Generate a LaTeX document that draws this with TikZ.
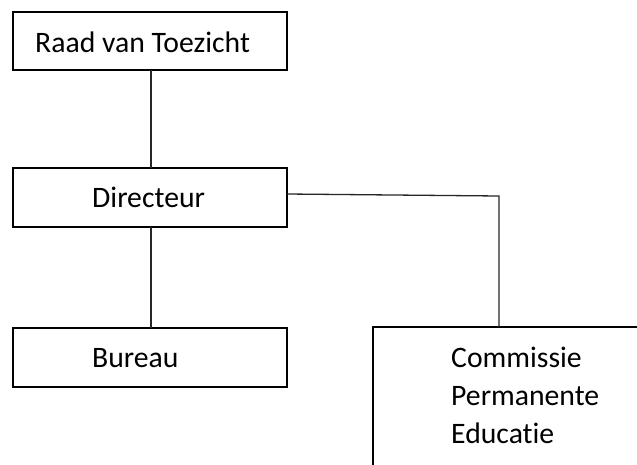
\documentclass[tikz,border=0pt]{standalone}
\usepackage{fontspec}
\setmainfont{Carlito}[Ligatures=NoCommon]
\begin{document}
\begin{tikzpicture}[x=1pt,y=-1pt,
  box/.style={draw=black,line width=2pt,fill=white,inner sep=0pt,outer sep=0pt},
  lbl/.style={inner sep=0pt,anchor=base west,font=\fontsize{29.7}{38}\selectfont,text=black},
  conn/.style={draw=black!85,line width=1.3pt}]
\clip (0,0) rectangle (637,464);
\fill[white] (0,0) rectangle (637,464);
\node[box,minimum width=274pt,minimum height=58pt] (raad) at (150,41) {};
\node[box,minimum width=274pt,minimum height=59pt] (dir) at (150,197.5) {};
\node[box,minimum width=274pt,minimum height=59pt] (bur) at (150,357.5) {};
\node[box,minimum width=280pt,minimum height=160pt] (com) at (513,407) {};
\coordinate (k) at (499,196);
\draw[conn] ([xshift=1pt]raad.south) -- ([xshift=1pt]dir.north);
\draw[conn] ([xshift=1pt]dir.south) -- ([xshift=1pt]bur.north);
\draw[conn] ([yshift=3.5pt]dir.east) -- (k) -- (k |- com.north);
\node[lbl] (traad) at (35,52) {Raad van Toezicht};
\node[lbl] (tdir) at (92,207) {Directeur};
\node[lbl] (tbur) at (92,367) {Bureau};
\node[lbl] (tcom1) at (451,367) {Commissie};
\node[lbl] (tcom2) at (451,405) {Permanente};
\node[lbl] (tcom3) at (451,443) {Educatie};
\end{tikzpicture}
\end{document}
